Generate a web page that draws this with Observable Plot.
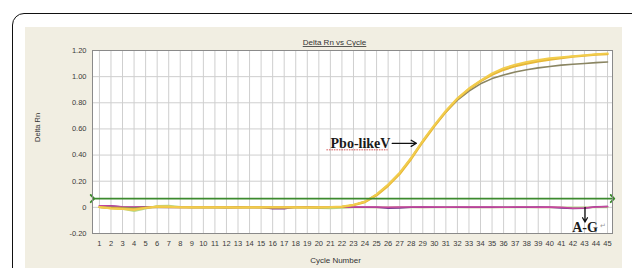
<!DOCTYPE html>
<html>
<head>
<meta charset="utf-8">
<script src="https://cdn.jsdelivr.net/npm/d3@7"></script>
<script src="https://cdn.jsdelivr.net/npm/@observablehq/plot@0.6"></script>
<style>
  html, body { margin: 0; padding: 0; background: #fff; }
  #wrap { position: relative; width: 632px; height: 268px; overflow: hidden; background: #fff; }
  #frame { position: absolute; left: 12px; top: 13px; width: 640px; height: 300px; border: 1.6px solid #111; border-radius: 12px; box-sizing: border-box; }
  #panel { position: absolute; left: 25px; top: 27px; width: 597px; height: 260px; background: #f1eee2; }
  #chart { position: absolute; left: 0; top: 0; }
</style>
</head>
<body>
<div id="wrap"><div id="frame"></div><div id="panel"></div><div id="chart"></div></div>
<script>
const cycles = d3.range(1, 46);
const yTicks = [-0.2, 0, 0.2, 0.4, 0.6, 0.8, 1.0, 1.2];
const threshold = 0.067;

const yellowA = [0.002,-0.008,-0.012,-0.018,-0.004,0.006,0.004,0.001,0.000,0.000,0.001,0.000,-0.001,0.000,0.000,0.001,0.000,0.000,-0.001,0.000,0.002,
  0.006,0.020,0.045,0.100,0.175,0.265,0.380,0.510,0.630,0.740,0.835,0.910,0.970,1.025,1.065,1.092,1.112,1.127,1.140,1.148,1.156,1.164,1.172,1.178];
const yellowB = [0.001,-0.006,-0.010,-0.015,-0.003,0.004,0.003,0.001,0.000,0.001,0.000,0.000,0.000,0.001,0.000,0.000,0.001,0.000,0.000,0.000,0.001,
  0.004,0.016,0.040,0.092,0.165,0.255,0.370,0.500,0.620,0.730,0.830,0.905,0.965,1.015,1.052,1.080,1.100,1.117,1.130,1.142,1.153,1.160,1.168,1.172];
const olive = [0.001,0.000,-0.002,-0.004,0.000,0.001,0.000,0.000,0.000,0.000,0.000,0.000,0.000,0.000,0.000,0.000,0.000,0.000,0.000,0.000,0.001,
  0.004,0.018,0.044,0.098,0.172,0.262,0.378,0.508,0.625,0.730,0.820,0.890,0.945,0.985,1.012,1.035,1.053,1.067,1.078,1.088,1.095,1.101,1.107,1.112];
const magenta = [0.012,0.010,0.004,0.002,0.003,0.002,0.001,0.002,0.002,0.001,0.002,0.001,0.000,0.001,0.002,0.000,0.001,0.002,0.002,0.001,0.001,0.002,0.003,
  0.002,0.002,0.001,0.003,0.003,0.002,0.002,0.001,0.002,0.003,0.002,0.002,0.001,0.002,0.002,0.001,0.002,0.001,-0.006,-0.004,0.003,0.006];
const purple = [0.013,0.012,0.003,0.001,0.004,0.004,0.001,0.000,0.000,0.001,0.003,0.000,0.001,0.001,0.000,-0.010,-0.011,0.002,0.001,0.000,0.000,0.001,0.000,
  0.000,0.000,-0.006,-0.005,0.001,0.002,0.001,0.000,0.001,0.000,0.001,0.001,0.000,0.000,0.001,0.002,0.001,-0.004,-0.008,-0.006,0.004,0.006];
const pink = [0.000,-0.002,-0.004,-0.003,0.002,0.000,-0.002,0.000,-0.002,-0.001,0.000,-0.005,-0.004,0.000,-0.003,-0.002,0.000,0.001,0.000,-0.001,0.000,-0.002,0.001,
  0.000,-0.001,0.000,0.002,0.000,-0.001,0.000,0.001,0.000,-0.001,0.000,-0.001,0.000,0.001,0.000,-0.001,0.000,-0.002,-0.004,0.000,0.002,0.003];
const green = [0.002,-0.006,-0.012,-0.028,-0.010,0.012,0.014,0.004,0.000,0.001,0.000,-0.001,0.000,0.001,0.000,-0.001,0.000,0.000,-0.002,-0.006,-0.008,-0.004,
  0.000,0.000,0.000,0.000,0.000,0.000,0.000,0.000,0.000,0.000,0.000,0.000,0.000,0.000,0.000,0.000,0.000,0.000,0.000,0.000,0.000,0.000,0.000];

// annotations (data units)
const noteP = {label: "Pbo-likeV", x: 26.2, y: 0.49, ax1: 26.35, ax2: 28.45};
const noteA = {label: "A-G", x: 43.05, y: -0.158, ay1: 0.0, ay2: -0.112};

const series = [
  {name: "pink", values: pink, color: "#ef8fb2", w: 1.3},
  {name: "green", values: green, color: "#b8d98a", w: 1.8},
  {name: "purple", values: purple, color: "#7b3c92", w: 1.5},
  {name: "magenta", values: magenta, color: "#c8469f", w: 1.5},
  {name: "olive", values: olive, color: "#8a8562", w: 1.6},
  {name: "yellowB", values: yellowB, color: "#e6b737", w: 2.2},
  {name: "yellowA", values: yellowA, color: "#f2cc4c", w: 2.0}
];
const lineMarks = series.map(s => Plot.line(cycles.map((c, i) => ({c, v: s.values[i]})),
  {x: "c", y: "v", stroke: s.color, strokeWidth: s.w}));

const serif = "'Liberation Serif', 'DejaVu Serif', serif";

const chart = Plot.plot({
  width: 632,
  height: 268,
  marginLeft: 92,
  marginRight: 20,
  marginTop: 50,
  marginBottom: 35,
  style: {background: "transparent", fontFamily: "'Liberation Sans', Arial, sans-serif", fontSize: "7.5px", color: "#3a3a3a"},
  x: {domain: [0.4, 45.43], ticks: cycles, tickFormat: d => String(d), tickSize: 0, tickPadding: 7, label: null},
  y: {domain: [-0.2, 1.2], ticks: yTicks, tickFormat: d => Math.abs(d) < 1e-9 ? "0" : d.toFixed(2), tickSize: 0, tickPadding: 6, label: null},
  marks: [
    Plot.frame({fill: "#ffffff", stroke: "none"}),
    Plot.ruleX(cycles, {stroke: "#cfcfcf", strokeWidth: 1}),
    Plot.ruleY(yTicks, {stroke: "#cfcfcf", strokeWidth: 1}),
    ...lineMarks,
    Plot.link([0], {x1: () => 0.4, x2: () => 45.43, y1: () => threshold, y2: () => threshold,
      stroke: "#3c8a2e", strokeWidth: 1.8, markerStart: "arrow", markerEnd: "arrow"}),
    Plot.frame({stroke: "#8a8a8a", strokeWidth: 1}),
    // Pbo-likeV annotation
    Plot.text([noteP], {x: "x", y: "y", text: "label", textAnchor: "end", fontFamily: serif, fontWeight: "bold", fontSize: 14, fill: "#1a1a1a"}),
    Plot.ruleY([noteP], {x1: d => d.x - 5.5, x2: d => d.x - 0.2, y: d => d.y - 0.05, stroke: "#d04040", strokeWidth: 0.9, strokeDasharray: "1.5,1"}),
    Plot.arrow([noteP], {x1: "ax1", x2: "ax2", y1: "y", y2: "y", stroke: "#111", strokeWidth: 1.3, headLength: 7}),
    // A-G annotation
    Plot.arrow([noteA], {x1: "x", x2: "x", y1: "ay1", y2: "ay2", stroke: "#111", strokeWidth: 1.3, headLength: 7}),
    Plot.text([noteA], {x: "x", y: "y", text: "label", fontFamily: serif, fontWeight: "bold", fontSize: 14, fill: "#1a1a1a"}),
    Plot.text([noteA], {x: d => d.x + 1.6, y: d => d.y + 0.015, text: () => "\u21B5", fontSize: 7, fill: "#999"}),
    // titles
    Plot.text(["Delta Rn vs Cycle"], {frameAnchor: "top", dx: -18, dy: -11, fontSize: 8, fill: "#333"}),
    Plot.text(["Delta Rn"], {frameAnchor: "left", dx: -55, rotate: -90, fontSize: 7.5, fill: "#333"}),
    Plot.text(["Cycle Number"], {frameAnchor: "bottom", dx: -17, dy: 29, fontSize: 8, fill: "#333"})
  ]
});
d3.select(chart).selectAll("text").filter(function() { return this.textContent === "Delta Rn vs Cycle"; })
  .attr("text-decoration", "underline");
document.getElementById("chart").appendChild(chart);
</script>
</body>
</html>
